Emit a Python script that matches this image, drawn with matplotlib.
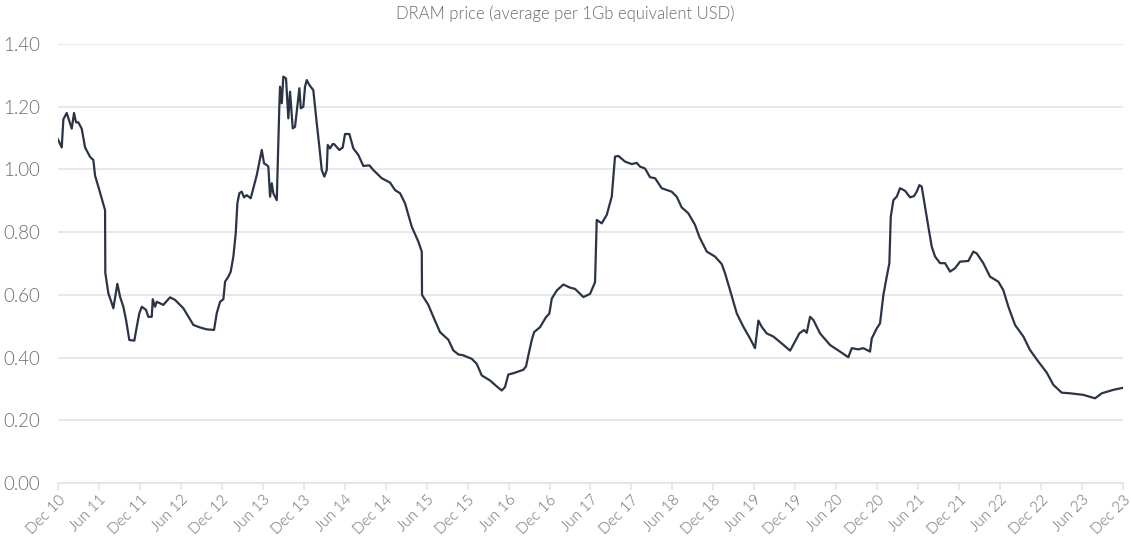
import matplotlib
matplotlib.use("Agg")
import matplotlib.pyplot as plt

plt.rcParams["font.family"] = ["Lato", "DejaVu Sans"]

# decimal year of each reading, and the price (USD per 1Gb equivalent)
years = [
    2010.908, 2010.962, 2010.982, 2011.023, 2011.084, 2011.112, 2011.137, 2011.165,
    2011.206, 2011.247, 2011.308, 2011.348, 2011.369, 2011.409, 2011.470, 2011.491,
    2011.494, 2011.531, 2011.573, 2011.592, 2011.641, 2011.674, 2011.714, 2011.747,
    2011.787, 2011.848, 2011.878, 2011.909, 2011.939, 2011.991, 2012.019, 2012.061,
    2012.073, 2012.101, 2012.122, 2012.202, 2012.284, 2012.345, 2012.447, 2012.569,
    2012.650, 2012.732, 2012.821, 2012.854, 2012.895, 2012.935, 2012.956, 2012.996,
    2013.025, 2013.057, 2013.086, 2013.106, 2013.130, 2013.159, 2013.188, 2013.220,
    2013.269, 2013.301, 2013.343, 2013.371, 2013.404, 2013.432, 2013.465, 2013.484,
    2013.505, 2013.526, 2013.545, 2013.587, 2013.618, 2013.627, 2013.648, 2013.667,
    2013.700, 2013.728, 2013.749, 2013.782, 2013.810, 2013.863, 2013.880, 2013.911,
    2013.932, 2013.953, 2013.985, 2014.033, 2014.075, 2014.107, 2014.136, 2014.168,
    2014.197, 2014.209, 2014.237, 2014.270, 2014.286, 2014.351, 2014.392, 2014.420,
    2014.473, 2014.522, 2014.583, 2014.644, 2014.717, 2014.766, 2014.868, 2014.970,
    2015.031, 2015.092, 2015.153, 2015.235, 2015.315, 2015.357, 2015.360, 2015.437,
    2015.498, 2015.580, 2015.681, 2015.742, 2015.803, 2015.864, 2015.967, 2016.028,
    2016.089, 2016.190, 2016.272, 2016.333, 2016.373, 2016.414, 2016.475, 2016.597,
    2016.630, 2016.658, 2016.699, 2016.728, 2016.801, 2016.874, 2016.914, 2016.944,
    2017.005, 2017.085, 2017.167, 2017.228, 2017.330, 2017.411, 2017.472, 2017.493,
    2017.554, 2017.615, 2017.676, 2017.716, 2017.757, 2017.838, 2017.920, 2017.981,
    2018.021, 2018.082, 2018.144, 2018.205, 2018.286, 2018.408, 2018.469, 2018.530,
    2018.611, 2018.693, 2018.745, 2018.836, 2018.937, 2019.019, 2019.059, 2019.120,
    2019.202, 2019.283, 2019.364, 2019.425, 2019.466, 2019.507, 2019.568, 2019.649,
    2019.751, 2019.853, 2019.901, 2019.966, 2020.023, 2020.056, 2020.097, 2020.137,
    2020.219, 2020.341, 2020.463, 2020.564, 2020.606, 2020.686, 2020.747, 2020.829,
    2020.850, 2020.911, 2020.951, 2020.992, 2021.033, 2021.065, 2021.082, 2021.114,
    2021.155, 2021.195, 2021.256, 2021.318, 2021.366, 2021.399, 2021.431, 2021.460,
    2021.500, 2021.541, 2021.582, 2021.623, 2021.684, 2021.745, 2021.806, 2021.867,
    2021.928, 2022.029, 2022.090, 2022.132, 2022.212, 2022.294, 2022.395, 2022.456,
    2022.518, 2022.599, 2022.701, 2022.782, 2022.884, 2022.986, 2023.067, 2023.169,
    2023.271, 2023.433, 2023.576, 2023.658, 2023.799, 2023.942,
]
prices = [
    1.100, 1.070, 1.160, 1.180, 1.130, 1.180, 1.150, 1.150,
    1.130, 1.070, 1.040, 1.030, 0.980, 0.945, 0.890, 0.870,
    0.670, 0.605, 0.573, 0.557, 0.635, 0.594, 0.562, 0.520,
    0.456, 0.454, 0.498, 0.541, 0.562, 0.552, 0.530, 0.530,
    0.586, 0.562, 0.578, 0.568, 0.592, 0.584, 0.557, 0.504,
    0.496, 0.490, 0.488, 0.541, 0.578, 0.586, 0.642, 0.658,
    0.674, 0.722, 0.796, 0.892, 0.924, 0.929, 0.911, 0.918,
    0.908, 0.940, 0.982, 1.019, 1.062, 1.019, 1.014, 1.009,
    0.913, 0.956, 0.924, 0.902, 1.200, 1.264, 1.211, 1.296,
    1.290, 1.163, 1.248, 1.131, 1.136, 1.259, 1.195, 1.200,
    1.264, 1.285, 1.269, 1.253, 1.147, 1.072, 0.998, 0.977,
    0.998, 1.078, 1.067, 1.081, 1.081, 1.062, 1.070, 1.113,
    1.113, 1.067, 1.046, 1.011, 1.013, 0.998, 0.972, 0.958,
    0.934, 0.924, 0.892, 0.817, 0.770, 0.738, 0.600, 0.568,
    0.530, 0.481, 0.457, 0.423, 0.410, 0.407, 0.396, 0.380,
    0.343, 0.327, 0.308, 0.295, 0.306, 0.346, 0.350, 0.361,
    0.372, 0.407, 0.455, 0.481, 0.497, 0.529, 0.540, 0.588,
    0.614, 0.633, 0.623, 0.619, 0.593, 0.603, 0.640, 0.839,
    0.828, 0.855, 0.913, 1.041, 1.043, 1.025, 1.017, 1.021,
    1.009, 1.003, 0.975, 0.972, 0.940, 0.929, 0.913, 0.879,
    0.860, 0.823, 0.785, 0.738, 0.722, 0.698, 0.669, 0.615,
    0.541, 0.498, 0.461, 0.430, 0.518, 0.498, 0.477, 0.467,
    0.445, 0.422, 0.445, 0.477, 0.488, 0.479, 0.530, 0.520,
    0.477, 0.440, 0.419, 0.401, 0.430, 0.426, 0.430, 0.419,
    0.461, 0.493, 0.509, 0.600, 0.658, 0.701, 0.849, 0.902,
    0.913, 0.940, 0.932, 0.911, 0.915, 0.929, 0.950, 0.945,
    0.881, 0.817, 0.754, 0.722, 0.701, 0.701, 0.674, 0.685,
    0.706, 0.708, 0.738, 0.732, 0.701, 0.658, 0.642, 0.615,
    0.562, 0.504, 0.467, 0.424, 0.387, 0.352, 0.313, 0.288,
    0.286, 0.281, 0.270, 0.286, 0.297, 0.305,
]

tick_labels = ["Dec 10", "Jun 11", "Dec 11", "Jun 12", "Dec 12", "Jun 13", "Dec 13",
               "Jun 14", "Dec 14", "Jun 15", "Dec 15", "Jun 16", "Dec 16", "Jun 17",
               "Dec 17", "Jun 18", "Dec 18", "Jun 19", "Dec 19", "Jun 20", "Dec 20",
               "Jun 21", "Dec 21", "Jun 22", "Dec 22", "Jun 23", "Dec 23"]
tick_years = [2010 + 11 / 12 + 0.5 * i for i in range(len(tick_labels))]
y_ticks = [0.0, 0.2, 0.4, 0.6, 0.8, 1.0, 1.2, 1.4]

LINE = "#2b3447"
GRID = "#e4e4e4"
TXT = "#6a6a6a"
W = 300  # Lato Light

fig = plt.figure(figsize=(11.31, 5.42), dpi=100)
ax = fig.add_axes([0.0513, 0.1089, 0.9416, 0.8099])

ax.plot(years, prices, color=LINE, lw=1.6, solid_joinstyle="round", zorder=3)

ax.set_xlim(tick_years[0], tick_years[-1])
ax.set_ylim(0, 1.4)
ax.set_yticks(y_ticks)
ax.set_yticklabels([f"{v:.2f}" for v in y_ticks], fontsize=13.5, color=TXT,
                   fontweight=W)
ax.set_xticks(tick_years)
ax.set_xticklabels(tick_labels, rotation=45, ha="right", rotation_mode="anchor",
                   fontsize=11, color=TXT, fontweight=W)

ax.grid(axis="y", color=GRID, lw=1.2, zorder=0)
ax.set_axisbelow(True)
for side in ["top", "right", "left"]:
    ax.spines[side].set_visible(False)
ax.spines["bottom"].set_color(GRID)
ax.spines["bottom"].set_linewidth(1.2)
ax.tick_params(axis="y", length=0, pad=13)
ax.tick_params(axis="x", length=5, width=1.2, color=GRID, pad=2)

fig.text(0.5, 0.975, "DRAM price (average per 1Gb equivalent USD)", ha="center",
         va="center", fontsize=12, color=TXT, fontweight=W)

fig.savefig("out.png", dpi=100, facecolor="white")
